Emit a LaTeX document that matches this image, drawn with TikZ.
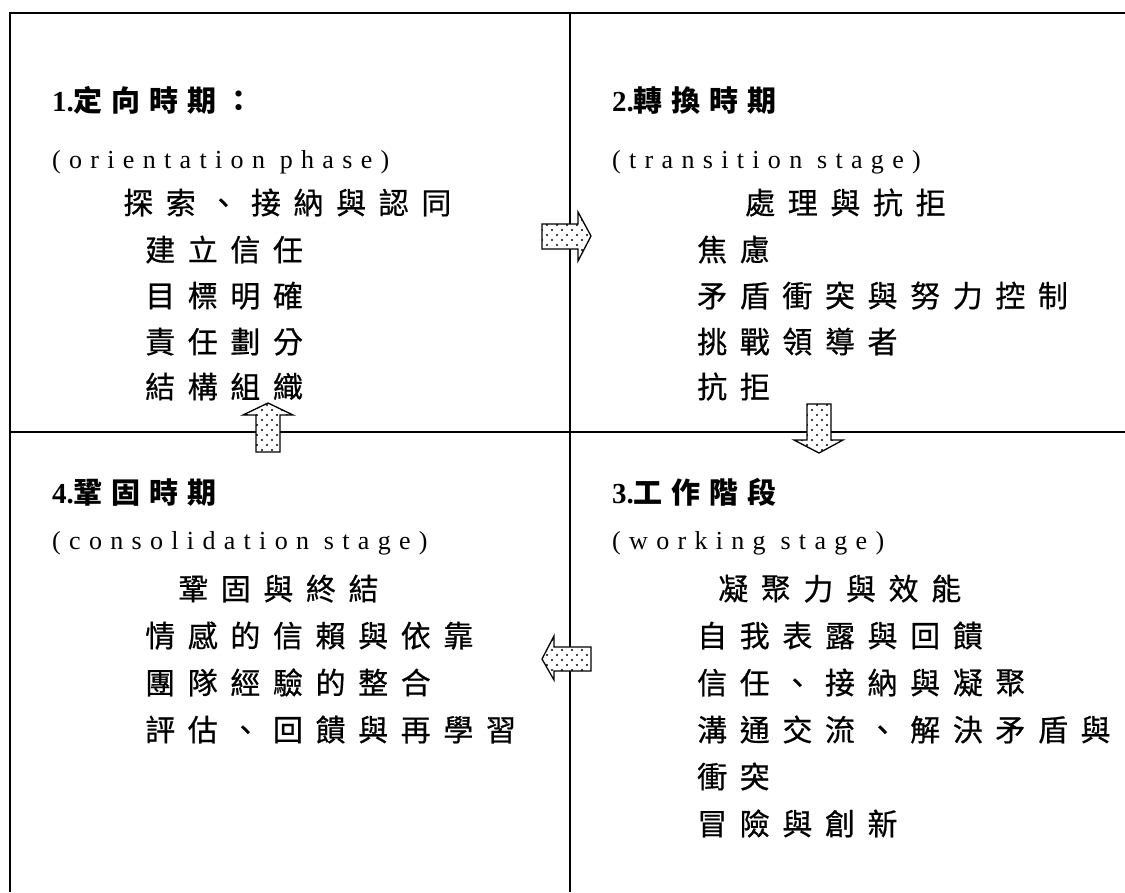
\documentclass[tikz,border=0pt]{standalone}
\usepackage{fontspec}
\setmainfont{Liberation Serif}[LetterSpace=32]
\newfontfamily\hd{Liberation Serif}
\newfontfamily\cjk{Noto Sans CJK TC}[LetterSpace=42,FakeBold=0.6]
\newfontfamily\cjkb{Noto Sans CJK TC}[LetterSpace=30]
\usetikzlibrary{patterns.meta}
\tikzdeclarepattern{name=sdots, type=uncolored, bounding box={(-0.5pt,-0.5pt) and (10.5pt,10.5pt)}, tile size={(10pt,10pt)}, code={\fill (2pt,2pt) circle (1.1pt); \fill (7pt,7pt) circle (1.1pt);}}
\tikzset{
  frame/.style={line width=2pt},
  txt/.style={anchor=base west, inner sep=0pt, font=\cjk\fontsize{30}{30}\selectfont},
  lat/.style={anchor=base west, inner sep=0pt, font=\fontsize{26}{26}\selectfont},
  head/.style={anchor=base west, inner sep=0pt, font=\hd\bfseries\fontsize{29}{29}\selectfont},
  blk/.style={draw, line width=1.3pt, fill=white, postaction={pattern={sdots}}}
}
\begin{document}
\begin{tikzpicture}[x=1pt,y=-1pt]
\useasboundingbox (0,0) rectangle (1125,892);
% frame
\draw[frame] (1125,13) -- (10,13) -- (10,892);
\draw[frame] (570,13) -- (570,892);
\draw[frame] (10,432) -- (1125,432);
% Q1
\node[head] (h1) at (52,111) {1.{\cjkb\bfseries 定向時期：}};
\node[lat] (e1) at (52,168) {(orientation phase)};
\node[txt] (a1) at (123,214) {探索、接納與認同};
\node[txt] (a2) at (145,261) {建立信任};
\node[txt] (a3) at (145,307) {目標明確};
\node[txt] (a4) at (145,353) {責任劃分};
\node[txt] (a5) at (145,398) {結構組織};
% Q2
\node[head] (h2) at (612,111) {2.{\cjkb\bfseries 轉換時期}};
\node[lat] (e2) at (612,168) {(transition stage)};
\node[txt] (b1) at (745,214) {處理與抗拒};
\node[txt] (b2) at (697,261) {焦慮};
\node[txt] (b3) at (697,307) {矛盾衝突與努力控制};
\node[txt] (b4) at (697,353) {挑戰領導者};
\node[txt] (b5) at (697,398) {抗拒};
% Q4
\node[head] (h4) at (52,503) {4.{\cjkb\bfseries 鞏固時期}};
\node[lat] (e4) at (52,549) {(consolidation stage)};
\node[txt] (d1) at (178,600) {鞏固與終結};
\node[txt] (d2) at (145,647) {情感的信賴與依靠};
\node[txt] (d3) at (145,694) {團隊經驗的整合};
\node[txt] (d4) at (145,741) {評估、回饋與再學習};
% Q3
\node[head] (h3) at (612,503) {3.{\cjkb\bfseries 工作階段}};
\node[lat] (e3) at (612,549) {(working stage)};
\node[txt] (c1) at (718,600) {凝聚力與效能};
\node[txt] (c2) at (697,647) {自我表露與回饋};
\node[txt] (c3) at (697,694) {信任、接納與凝聚};
\node[txt] (c4) at (697,741) {溝通交流、解決矛盾與};
\node[txt] (c5) at (697,788) {衝突};
\node[txt] (c6) at (697,835) {冒險與創新};
% block arrows
\draw[blk] (542,224) -- (578,224) -- (578,212) -- (591,236) -- (578,261) -- (578,249) -- (542,249) -- cycle;
\draw[blk] (256,452) -- (256,415) -- (243,415) -- (268,403) -- (293,415) -- (280,415) -- (280,452) -- cycle;
\draw[blk] (807,404) -- (831,404) -- (831,440) -- (843,440) -- (819,453) -- (794,440) -- (807,440) -- cycle;
\draw[blk] (591,647) -- (554,647) -- (554,636) -- (542,659) -- (554,680) -- (554,671) -- (591,671) -- cycle;
\end{tikzpicture}
\end{document}
